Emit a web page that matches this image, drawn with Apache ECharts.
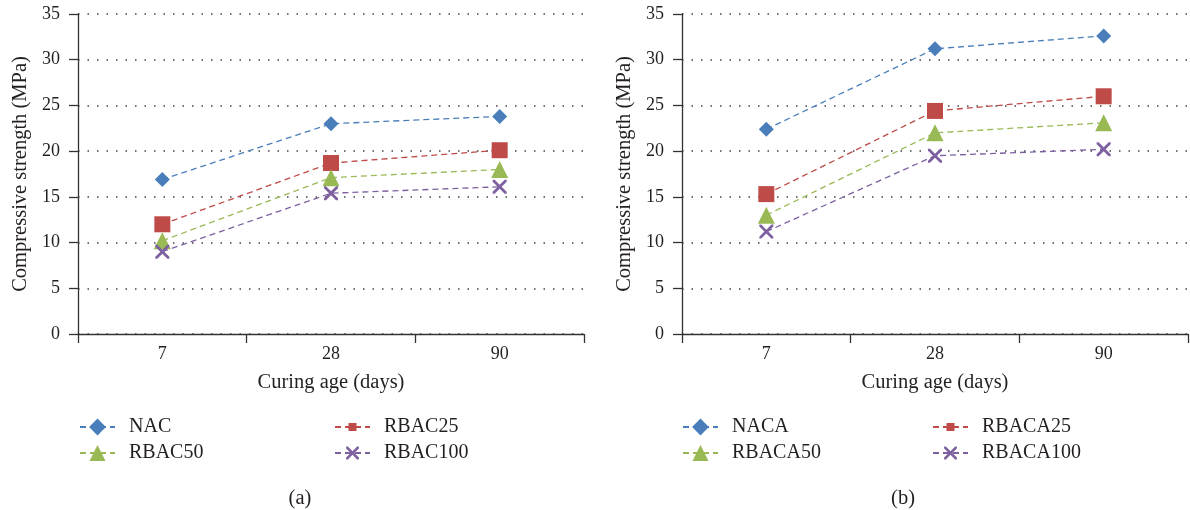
<!DOCTYPE html>
<html><head><meta charset="utf-8">
<script src="https://cdn.jsdelivr.net/npm/echarts@6/dist/echarts.min.js"></script>
<style>html,body{margin:0;padding:0;background:#fff}#c{width:1190px;height:510px}</style>
</head><body><div id="c"></div>
<script>
const categories = ['7', '28', '90'];
const yTicks = [0, 5, 10, 15, 20, 25, 30, 35];
const namesA = ['NAC', 'RBAC25', 'RBAC50', 'RBAC100'];
const namesB = ['NACA', 'RBACA25', 'RBACA50', 'RBACA100'];
const NAC = [16.9, 23.0, 23.8];
const RBAC25 = [12.0, 18.7, 20.1];
const RBAC50 = [10.2, 17.1, 18.0];
const RBAC100 = [9.0, 15.4, 16.1];
const NACA = [22.4, 31.2, 32.6];
const RBACA25 = [15.3, 24.4, 26.0];
const RBACA50 = [13.0, 22.0, 23.1];
const RBACA100 = [11.2, 19.5, 20.2];
const panelLabels = ['(a)', '(b)'];
const xTitle = 'Curing age (days)';
const yTitle = 'Compressive strength (MPa)';

const FONT = '"Liberation Serif", "DejaVu Serif", serif';
const TXT = '#231f20';
const colors = ['#4a7ebb', '#be4b48', '#98b954', '#7d60a0'];
const crossPath = 'path://M0,0L1.4,0L5,3.6L8.6,0L10,0L10,1.4L6.4,5L10,8.6L10,10L8.6,10L5,6.4L1.4,10L0,10L0,8.6L3.6,5L0,1.4Z';
const symbols = ['diamond', 'rect', 'triangle', crossPath];
const symSizes = [15, 16, 17, 14];
const legIconH = [21, 10, 20, 16];

const dataA = [NAC, RBAC25, RBAC50, RBAC100];
const dataB = [NACA, RBACA25, RBACA50, RBACA100];

function xAxis(gi) {
  return {
    type: 'category', gridIndex: gi, data: categories, boundaryGap: true,
    name: xTitle, nameLocation: 'middle', nameGap: 38,
    nameTextStyle: {fontFamily: FONT, fontSize: 20.5, color: TXT},
    axisLine: {lineStyle: {color: '#333', width: 1.3}},
    axisTick: {show: true, interval: 0, length: 9, inside: false, lineStyle: {color: '#333', width: 1.3}},
    axisLabel: {fontFamily: FONT, fontSize: 18, color: TXT, margin: 11, interval: 0},
    splitLine: {show: false}
  };
}
function yAxis(gi) {
  return {
    type: 'value', gridIndex: gi, min: yTicks[0], max: yTicks[yTicks.length - 1], interval: 5,
    name: yTitle, nameLocation: 'middle', nameGap: 47,
    nameTextStyle: {fontFamily: FONT, fontSize: 20.5, color: TXT},
    axisLine: {show: true, lineStyle: {color: '#333', width: 1.3}},
    axisTick: {show: true, length: 9, lineStyle: {color: '#333', width: 1.3}},
    axisLabel: {fontFamily: FONT, fontSize: 18, color: TXT, margin: 18},
    splitLine: {show: true, lineStyle: {color: '#444', width: 1.5, type: [1.5, 8]}}
  };
}
const series = [];
const legends = [];
function addPanel(gi, names, data, legX1, legX2) {
  names.forEach((n, i) => {
    series.push({
      name: n, type: 'line', xAxisIndex: gi, yAxisIndex: gi, data: data[i],
      symbol: symbols[i], symbolSize: symSizes[i], symbolKeepAspect: true,
      itemStyle: {color: colors[i], borderWidth: 0},
      lineStyle: {color: colors[i], width: 1.3, type: [6, 4]},
      z: 3 + i, animation: false
    });
    const col = i % 2, row = Math.floor(i / 2);
    const h = legIconH[i];
    legends.push({
      data: [n], left: col === 0 ? legX1 : legX2, top: (row === 0 ? 427 : 453) - 11,
      itemWidth: 35, itemHeight: h, orient: 'horizontal', padding: 0,
      selectedMode: false,
      textStyle: {fontFamily: FONT, fontSize: 20, color: TXT, padding: [0, 0, 0, 9], height: 22, lineHeight: 22},
      itemStyle: {borderWidth: 0}
    });
  });
}
addPanel(0, namesA, dataA, 79, 334);
addPanel(1, namesB, dataB, 682, 932);

const chart = echarts.init(document.getElementById('c'), null, {renderer: 'canvas'});
chart.setOption({
  animation: false,
  backgroundColor: '#fff',
  title: [
    {text: panelLabels[0], left: 295, top: 483, textAlign: 'center', textStyle: {fontFamily: FONT, fontSize: 20.5, fontWeight: 'normal', color: TXT}},
    {text: panelLabels[1], left: 898, top: 483, textAlign: 'center', textStyle: {fontFamily: FONT, fontSize: 20.5, fontWeight: 'normal', color: TXT}}
  ],
  grid: [
    {left: 78, right: 606, top: 14, bottom: 176},
    {left: 682, right: 2, top: 14, bottom: 176}
  ],
  xAxis: [xAxis(0), xAxis(1)],
  yAxis: [yAxis(0), yAxis(1)],
  legend: legends,
  series: series
});
</script></body></html>
